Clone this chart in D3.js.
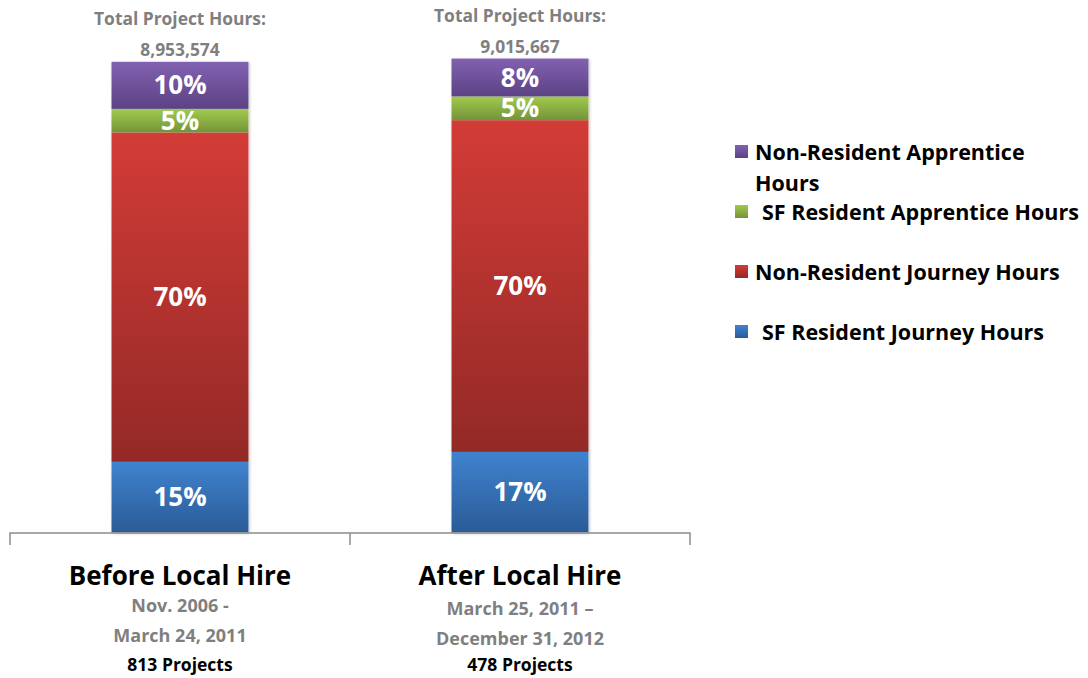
<!DOCTYPE html>
<html>
<head>
<meta charset="utf-8">
<script src="https://cdn.jsdelivr.net/npm/d3@7"></script>
<style>
  body { margin: 0; background: #fff; }
  text { font-family: "Open Sans", Lato, sans-serif; font-weight: bold; }
</style>
</head>
<body>
<div id="chart"></div>
<script>
w = 1088;
h = 678;

// categories (periods) and their totals
periods = ['Before Local Hire', 'After Local Hire'];
totalHours = [8953574, 9015667];
dateLines = [['Nov. 2006 -', 'March 24, 2011'], ['March 25, 2011 \u2013', 'December 31, 2012']];
projects = ['813 Projects', '478 Projects'];

// series, bottom to top
seriesNames = ['SF Resident Journey Hours', 'Non-Resident Journey Hours', 'SF Resident Apprentice Hours', 'Non-Resident Apprentice Hours'];
sfJourney = [15, 17];
nrJourney = [70, 70];
sfApprentice = [5, 5];
nrApprentice = [10, 8];

// gradient colours: top, bottom
colorsTop = ['#3f83cf', '#d33c37', '#a0cb4c', '#8161b1'];
colorsBottom = ['#2b5b97', '#932926', '#74933a', '#5c4284'];

var shares = [sfJourney, nrJourney, sfApprentice, nrApprentice];

var svg = d3.select('#chart').append('svg')
  .attr('width', w)
  .attr('height', h);

var defs = svg.append('defs');
seriesNames.forEach(function(s, i) {
  var g = defs.append('linearGradient')
    .attr('id', 'grad' + i)
    .attr('x1', 0).attr('y1', 0).attr('x2', 0).attr('y2', 1);
  g.append('stop').attr('offset', '0%').attr('stop-color', colorsTop[i]);
  g.append('stop').attr('offset', '100%').attr('stop-color', colorsBottom[i]);
});
var shadow = defs.append('filter').attr('id', 'shadow')
  .attr('x', '-10%').attr('y', '-10%').attr('width', '120%').attr('height', '120%');
shadow.append('feDropShadow').attr('dx', 1).attr('dy', 1).attr('stdDeviation', 1.5)
  .attr('flood-color', '#000').attr('flood-opacity', 0.25);

xScale = d3.scaleBand()
  .domain(periods)
  .range([10, 690])
  .padding(0);

yScale = d3.scaleLinear()
  .domain([0, 10000000])
  .range([532.5, 6.8]);

// build stack rows in hours
var rows = periods.map(function(p, j) {
  var r = { period: p };
  seriesNames.forEach(function(s, i) { r[s] = totalHours[j] * shares[i][j] / 100; });
  return r;
});
var stack = d3.stack().keys(seriesNames)(rows);

var barW = xScale.bandwidth() * 0.403;

var layers = svg.selectAll('.layer').data(stack).enter()
  .append('g')
  .attr('class', 'layer')
  .attr('fill', function(d, i) { return 'url(#grad' + i + ')'; });

// shadow behind bars
svg.insert('g', '.layer').selectAll('rect').data(rows).enter()
  .append('rect')
  .attr('x', function(d) { return xScale(d.period) + xScale.bandwidth() / 2 - barW / 2; })
  .attr('y', function(d, j) { return yScale(totalHours[j]); })
  .attr('width', barW)
  .attr('height', function(d, j) { return yScale(0) - yScale(totalHours[j]); })
  .attr('fill', '#fff')
  .attr('filter', 'url(#shadow)');

layers.selectAll('rect').data(function(d) { return d; }).enter()
  .append('rect')
  .attr('x', function(d) { return xScale(d.data.period) + xScale.bandwidth() / 2 - barW / 2; })
  .attr('y', function(d) { return yScale(d[1]); })
  .attr('width', barW)
  .attr('height', function(d) { return yScale(d[0]) - yScale(d[1]); });

// percent labels
stack.forEach(function(layer, i) {
  svg.selectAll('.pct' + i).data(layer).enter()
    .append('text')
    .attr('class', 'pct' + i)
    .attr('x', function(d) { return xScale(d.data.period) + xScale.bandwidth() / 2; })
    .attr('y', function(d) { return (yScale(d[0]) + yScale(d[1])) / 2 + 9; })
    .attr('text-anchor', 'middle')
    .attr('fill', '#fff')
    .attr('font-size', '26px')
    .text(function(d, j) { return shares[i][j] + '%'; });
});

// axis
var xAxis = d3.axisBottom(xScale).tickSize(0).tickFormat('');
var xAxisG = svg.append('g')
  .attr('transform', 'translate(0,' + 533 + ')')
  .call(xAxis);
xAxisG.select('.domain').attr('stroke', '#8c8c8c').attr('stroke-width', 1.5)
  .attr('d', 'M10,12V0H690V12');
xAxisG.append('line')
  .attr('x1', 350).attr('x2', 350).attr('y1', 0).attr('y2', 12)
  .attr('stroke', '#8c8c8c').attr('stroke-width', 1.5);

// top totals
var fmt = d3.format(',');
periods.forEach(function(p, j) {
  var cx = xScale(p) + xScale.bandwidth() / 2;
  var top = yScale(totalHours[j]);
  svg.append('text').attr('x', cx).attr('y', top - 37)
    .attr('text-anchor', 'middle').attr('fill', '#7f7f7f').attr('font-size', '17.4px')
    .text('Total Project Hours:');
  svg.append('text').attr('x', cx).attr('y', top - 6)
    .attr('text-anchor', 'middle').attr('fill', '#7f7f7f').attr('font-size', '17.4px')
    .text(fmt(totalHours[j]));

  // bottom labels
  svg.append('text').attr('x', cx).attr('y', 585)
    .attr('text-anchor', 'middle').attr('fill', '#000').attr('font-size', '26px')
    .text(p);
  dateLines[j].forEach(function(t, k) {
    svg.append('text').attr('x', cx).attr('y', (j == 0 ? 612 : 615) + k * 30)
      .attr('text-anchor', 'middle').attr('fill', '#7f7f7f').attr('font-size', '18px')
      .text(t);
  });
  svg.append('text').attr('x', cx).attr('y', 671)
    .attr('text-anchor', 'middle').attr('fill', '#000').attr('font-size', '17.5px')
    .text(projects[j]);
});

// legend (top to bottom)
var legendRows = [
  { i: 3, y: 160, tx: 755, lines: ['Non-Resident Apprentice', 'Hours'] },
  { i: 2, y: 220, tx: 762, lines: ['SF Resident Apprentice Hours'] },
  { i: 1, y: 280, tx: 755, lines: ['Non-Resident Journey Hours'] },
  { i: 0, y: 340, tx: 762, lines: ['SF Resident Journey Hours'] }
];
var legend = svg.append('g').attr('class', 'legend');
legendRows.forEach(function(r) {
  legend.append('rect')
    .attr('x', 735).attr('y', r.y - 15).attr('width', 13).attr('height', 13)
    .attr('fill', 'url(#grad' + r.i + ')');
  r.lines.forEach(function(t, k) {
    legend.append('text')
      .attr('x', r.tx).attr('y', r.y + k * 31)
      .attr('fill', '#000').attr('font-size', '21.5px')
      .text(t);
  });
});
</script>
</body>
</html>
